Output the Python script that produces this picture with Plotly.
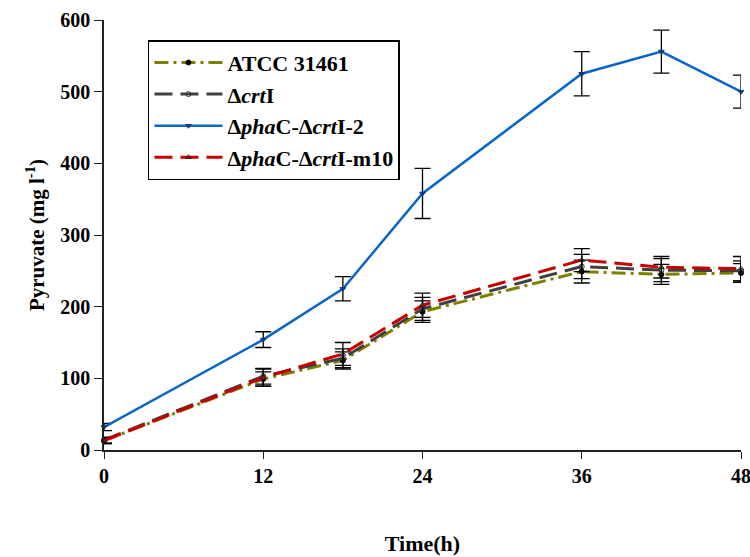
import plotly.graph_objects as go

time_h = [0, 12, 18, 24, 36, 42, 48]

names = ["ATCC 31461", "Δ<i>crt</i>I", "Δ<i>pha</i>C-Δ<i>crt</i>I-2", "Δ<i>pha</i>C-Δ<i>crt</i>I-m10"]

atcc = [13, 99, 125, 193, 249, 245, 247]
atcc_err = [4, 10, 12, 15, 16, 14, 13]

crti = [14, 103, 128, 197, 256, 251, 250]
crti_err = [4, 11, 13, 16, 17, 16, 14]

phac2 = [32, 154, 225, 358, 525, 556, 500]
phac2_err = [5, 11, 17, 35, 31, 30, 23]

phac_m10 = [13, 101, 134, 202, 265, 255, 253]
phac_m10_err = [4, 12, 16, 17, 16, 15, 17]

series = [
    (names[0], atcc, atcc_err, "#808000", "14px,5px,3px,5px", "circle", "black", 3),
    (names[1], crti, crti_err, "#404040", "18px,8px", "circle-open", "#333333", 3),
    (names[2], phac2, phac2_err, "#0a66c8", "solid", "triangle-down", "#0a3a80", 2.5),
    (names[3], phac_m10, phac_m10_err, "#c80000", "18px,8px", "triangle-up-open", "#222222", 3),
]

fig = go.Figure()
for name, vals, err, color, dash, sym, mcol, lw in series:
    fig.add_trace(go.Scatter(
        x=time_h, y=vals, name=name, mode="lines+markers",
        line=dict(color=color, width=lw, dash=dash),
        marker=dict(symbol=sym, size=5, color=mcol, line=dict(color=mcol, width=1)),
        error_y=dict(type="data", array=err, visible=True, color="black",
                     thickness=1.3, width=8),
        cliponaxis=False,
    ))

fig.update_layout(
    width=750, height=557,
    paper_bgcolor="white", plot_bgcolor="white",
    margin=dict(l=104, r=9, t=20, b=107),
    font=dict(family="Liberation Serif", color="black"),
    showlegend=True,
    legend=dict(
        x=0.069, y=0.953, xanchor="left", yanchor="top",
        bordercolor="black", borderwidth=1.5, bgcolor="white",
        font=dict(family="Liberation Serif", size=22, color="black", weight="bold"),
        itemwidth=68,
    ),
    xaxis=dict(
        range=[0, 48], tickvals=[0, 12, 24, 36, 48],
        showline=True, linecolor="#222", linewidth=1.5,
        ticks="outside", ticklen=7, tickwidth=1.3, tickcolor="#222",
        showgrid=False, zeroline=False, automargin=False,
        ticklabeloverflow="allow",
        tickfont=dict(size=20, family="Liberation Serif", weight="bold"),
        title=dict(text="Time(h)", font=dict(size=22, family="Liberation Serif", weight="bold"), standoff=50),
    ),
    yaxis=dict(
        range=[0, 600], tickvals=[0, 100, 200, 300, 400, 500, 600],
        showline=True, linecolor="#222", linewidth=1.5,
        ticks="outside", ticklen=8, tickwidth=1.3, tickcolor="#222",
        showgrid=False, zeroline=False, automargin=False,
        ticklabeloverflow="allow",
        tickfont=dict(size=20, family="Liberation Serif", weight="bold"),
        title=dict(text="Pyruvate (mg l<sup>-1</sup>)", font=dict(size=21, family="Liberation Serif", weight="bold"), standoff=10),
    ),
)

fig.write_html(
    "out.html",
    config={"displayModeBar": False},
    post_script="document.body.style.margin='0';document.body.style.overflow='hidden';",
)
